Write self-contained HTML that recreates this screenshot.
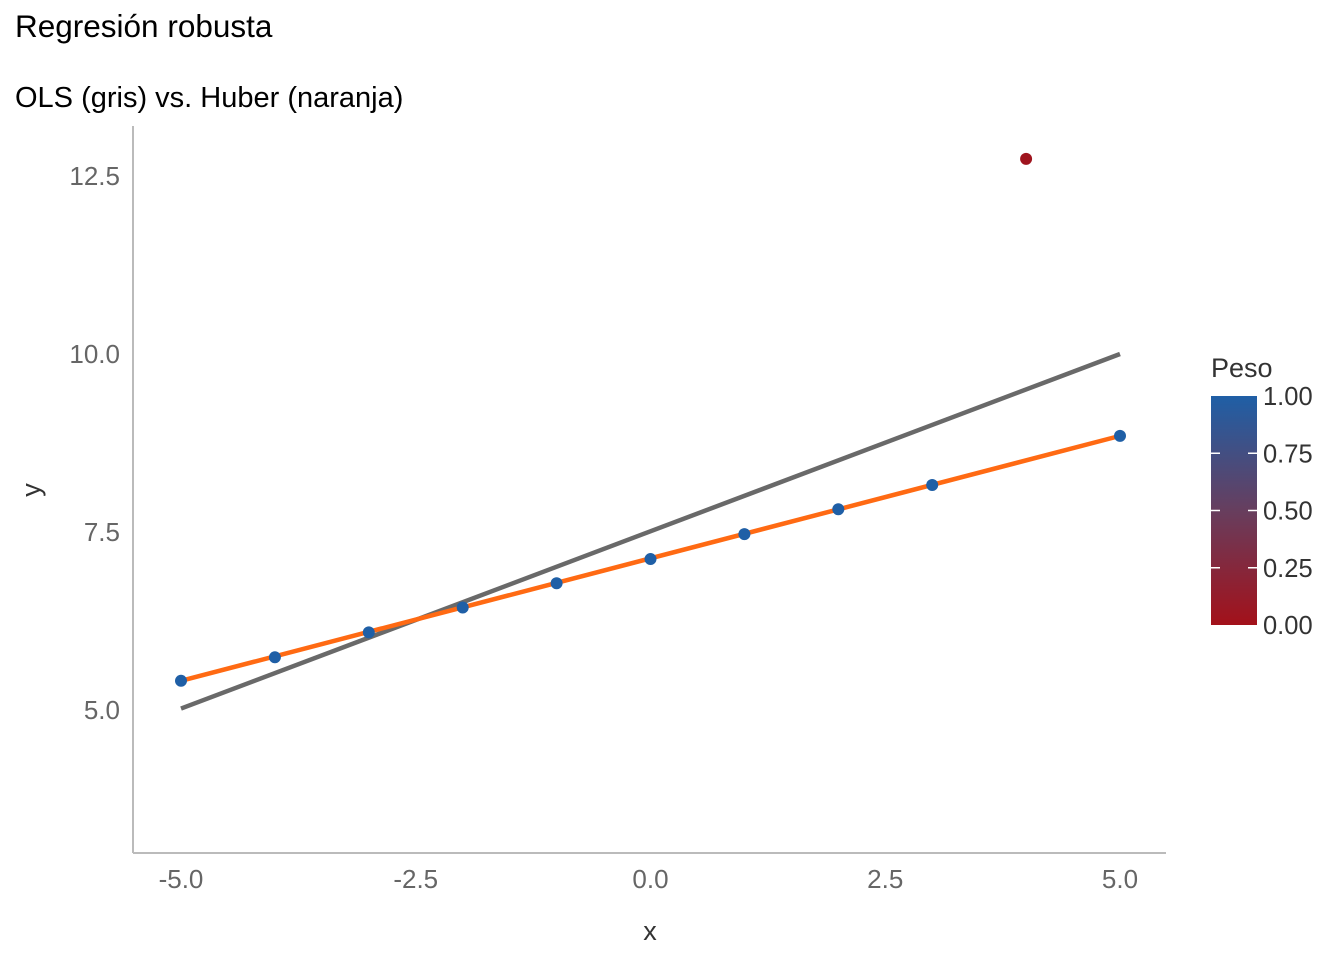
<!DOCTYPE html>
<html><head><meta charset="utf-8"><style>
body{margin:0;background:#fff;font-family:"Liberation Sans",sans-serif}
</style></head><body>
<svg id="chart" width="1344" height="960" xmlns="http://www.w3.org/2000/svg">
<defs><linearGradient id="grad" x1="0" y1="0" x2="0" y2="1">
<stop offset="0" stop-color="#1f5fa6"/><stop offset="0.5" stop-color="#673e5e"/><stop offset="1" stop-color="#a3111a"/></linearGradient></defs>
<text x="15" y="37" font-size="31.5" fill="#000">Regresión robusta</text>
<text x="15" y="107" font-size="29" fill="#000">OLS (gris) vs. Huber (naranja)</text>
<line x1="133" y1="126" x2="133" y2="853" stroke="#bbb" stroke-width="2"/>
<line x1="133" y1="853" x2="1166" y2="853" stroke="#bbb" stroke-width="2"/>
<g id="axes"></g>
<g id="lines"></g>
<g id="points"></g>
<text x="650" y="940" font-size="27" fill="#333" text-anchor="middle">x</text>
<text x="40" y="490" font-size="27" fill="#333" text-anchor="middle" transform="rotate(-90 40 490)">y</text>
<g>
<text x="1211" y="377" font-size="27" fill="#333">Peso</text>
<rect x="1211" y="396" width="46" height="229" fill="url(#grad)"/>
<g id="legticks"></g>
</g>
</svg>
<script>
const xTicks=[-5,-2.5,0,2.5,5];
const yTicks=[5,7.5,10,12.5];
const xs=[-5,-4,-3,-2,-1,0,1,2,3,4,5];
const ys=[5.41,5.74,6.09,6.44,6.78,7.12,7.47,7.82,8.16,12.74,8.85];
const weights=[1,1,1,1,1,1,1,1,1,0.03,1];
const olsLine=[5.02,10.0];
const huberLine=[5.41,8.85];
const legendTicks=[0,0.25,0.5,0.75,1];
const NS="http://www.w3.org/2000/svg";
const X=v=>650.5+(v)*93.9;
const Y=v=>710-(v-5)*71.2;
const L=v=>625-v*229;
function mk(t,a,p){const e=document.createElementNS(NS,t);for(const k in a)e.setAttribute(k,a[k]);document.getElementById(p).appendChild(e);return e;}
xTicks.forEach(v=>{const t=mk('text',{x:X(v),y:888,'font-size':26,fill:'#666','text-anchor':'middle'},'axes');


t.textContent=v.toFixed(1);});
yTicks.forEach(v=>{const t=mk('text',{x:120,y:Y(v)+9,'font-size':26,fill:'#666','text-anchor':'end'},'axes');


t.textContent=v.toFixed(1);});
const o=mk('line',{x1:X(-5),y1:Y(olsLine[0]),x2:X(5),y2:Y(olsLine[1]),stroke:'#696969','stroke-width':4.5},'lines');


const h=mk('line',{x1:X(-5),y1:Y(huberLine[0]),x2:X(5),y2:Y(huberLine[1]),stroke:'#ff6a13','stroke-width':4.5},'lines');


function col(w){const a=[163,17,26],m=[103,62,94],b=[31,95,166];let c;
if(w<0.5){const t=w/0.5;c=a.map((v,i)=>v+(m[i]-v)*t);}else{const t=(w-0.5)/0.5;c=m.map((v,i)=>v+(b[i]-v)*t);}
return 'rgb('+c.map(Math.round).join(',')+')';}
xs.forEach((x,i)=>{const c=mk('circle',{cx:X(x),cy:Y(ys[i]),r:6,fill:col(weights[i])},'points');

});
legendTicks.forEach(v=>{
if(v>0&&v<1){mk('line',{x1:1211,x2:1220,y1:L(v),y2:L(v),stroke:'#fff','stroke-width':1.5},'legticks');mk('line',{x1:1248,x2:1257,y1:L(v),y2:L(v),stroke:'#fff','stroke-width':1.5},'legticks');}
const t=mk('text',{x:1263,y:L(v)+9,'font-size':25.5,fill:'#333'},'legticks');


t.textContent=v.toFixed(2);});
</script>
</body></html>
